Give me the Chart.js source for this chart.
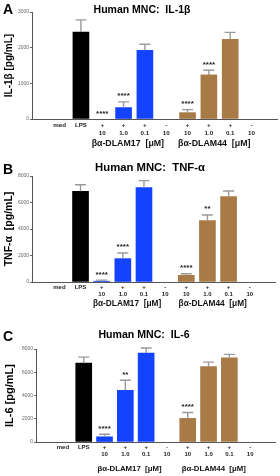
<!DOCTYPE html>
<html>
<head>
<meta charset="utf-8">
<script src="https://cdn.jsdelivr.net/npm/chart.js@4.4.1/dist/chart.umd.min.js"></script>
<style>
  body { margin: 0; background: #fff; }
  #wrap { position: relative; width: 280px; height: 476px; font-family: 'Liberation Sans', Arial, sans-serif; }
  canvas { position: absolute; left: 0; }
  .letter { position: absolute; left: 3px; font-weight: bold; font-size: 14px; line-height: 14px; }
  .title { position: absolute; transform: translateX(-50%); white-space: pre; font-weight: bold; line-height: 12px; }
</style>
</head>
<body>
<div id="wrap">
  <canvas id="chartA" width="280" height="155" style="top:0"></canvas>
  <canvas id="chartB" width="280" height="160" style="top:155px"></canvas>
  <canvas id="chartC" width="280" height="161" style="top:315px"></canvas>
  <div class="letter" style="top:2px">A</div>
  <div class="title" style="left:142px;top:3px;font-size:10.5px">Human MNC:  IL-1β</div>
  <div class="letter" style="top:162px">B</div>
  <div class="title" style="left:150px;top:161px;font-size:11.3px">Human MNC:  TNF-α</div>
  <div class="letter" style="top:329px">C</div>
  <div class="title" style="left:144px;top:328px;font-size:10.6px">Human MNC:  IL-6</div>
</div>
<script>
// tick labels (two rows) and group labels
const tickTop = ['med', 'LPS', '+', '+', '+', '-', '+', '+', '+', '-'];
const tickBottom = ['', '', '10', '1.0', '0.1', '10', '10', '1.0', '0.1', '10'];
const groups = ['βα-DLAM17  [μM]', 'βα-DLAM44  [μM]'];

// means and SEM
const il1bMean = [0, 2440, 0, 320, 1925, 0, 178, 1237, 2235, 0];
const il1bErr = [0, 340, 0, 160, 170, 0, 85, 130, 195, 0];
const il1bStars = ['', '', '****', '****', '', '', '****', '****', '', ''];

const tnfMean = [0, 6840, 60, 1765, 7120, 0, 503, 4630, 6440, 0];
const tnfErr = [0, 500, 80, 425, 530, 0, 125, 430, 430, 0];
const tnfStars = ['', '', '****', '****', '', '', '****', '**', '', ''];

const il6Mean = [0, 6780, 450, 4450, 7650, 0, 2030, 6490, 7250, 0];
const il6Err = [0, 520, 220, 860, 440, 0, 510, 380, 290, 0];
const il6Stars = ['', '', '****', '**', '', '', '****', '', '', ''];

const barColors = ['#000000', '#000000', '#1443ff', '#1443ff', '#1443ff', '#1443ff',
                   '#a87a45', '#a87a45', '#a87a45', '#a87a45'];

Chart.defaults.font.family = "'Liberation Sans', Arial, sans-serif";

const extras = {
  id: 'extras',
  afterDatasetsDraw(chart, args, o) {
    const ctx = chart.ctx;
    const x = chart.scales.x, y = chart.scales.y;
    ctx.save();
    o.values.forEach((v, i) => {
      const px = x.getPixelForValue(i);
      const top = y.getPixelForValue(v);
      const et = y.getPixelForValue(v + o.errors[i]);
      if (o.errors[i] > 0) {
        ctx.strokeStyle = '#9a9a9a';
        ctx.lineWidth = 1.4;
        ctx.beginPath();
        ctx.moveTo(px, top);
        ctx.lineTo(px, et);
        ctx.moveTo(px - 5.5, et);
        ctx.lineTo(px + 5.5, et);
        ctx.stroke();
      }
      if (o.stars[i]) {
        ctx.fillStyle = '#222';
        ctx.font = 'bold 8px "Liberation Sans", Arial';
        ctx.textAlign = 'center';
        ctx.textBaseline = 'alphabetic';
        ctx.fillText(o.stars[i], px, et - 3.5);
      }
    });
    ctx.fillStyle = '#111';
    ctx.font = 'bold ' + o.groupSize + 'px "Liberation Sans", Arial';
    ctx.textAlign = 'center';
    ctx.textBaseline = 'middle';
    groups.forEach((g, k) => {
      ctx.fillText(g, x.getPixelForValue(o.groupAt[k]), chart.chartArea.bottom + o.groupDy);
    });
    ctx.restore();
  }
};

function makeChart(id, values, errors, stars, cfg) {
  return new Chart(document.getElementById(id), {
    type: 'bar',
    data: {
      datasets: [{
        // zero-height bars are left out so no hairline shows on the axis
        data: values.map((v, i) => ({ x: i, y: v === 0 ? null : v })),
        backgroundColor: barColors,
        borderWidth: 0,
        barThickness: 16
      }]
    },
    options: {
      responsive: false,
      animation: false,
      layout: { padding: { top: cfg.padTop, right: cfg.padRight, left: 0, bottom: 0 } },
      plugins: {
        legend: { display: false },
        tooltip: { enabled: false },
        extras: {
          values: values, errors: errors, stars: stars,
          groupAt: [3.2, 7.25], groupDy: cfg.groupDy, groupSize: cfg.groupSize
        }
      },
      scales: {
        x: {
          type: 'linear',
          min: -0.72,
          max: 9.62,
          afterBuildTicks: s => { s.ticks = tickTop.map((t, i) => ({ value: i })); },
          afterFit: s => { s.height = cfg.xHeight; },
          grid: { display: false, drawTicks: false },
          border: { display: true, color: '#555', width: 1 },
          ticks: {
            autoSkip: false, maxRotation: 0, minRotation: 0,
            padding: cfg.tickPad,
            color: '#222',
            font: { size: cfg.tickSize, weight: 'bold', lineHeight: cfg.tickLine },
            callback: v => tickBottom[v] ? [tickTop[v], tickBottom[v]] : [tickTop[v]]
          }
        },
        y: {
          min: 0,
          max: cfg.yMax,
          afterFit: s => { s.width = cfg.yWidth; },
          grid: { display: true, drawOnChartArea: false, drawTicks: true, tickLength: 2, color: '#666' },
          border: { display: true, color: '#555', width: 1 },
          ticks: {
            stepSize: cfg.yStep, padding: 1, color: '#666',
            font: { size: 5 },
            callback: v => String(v)
          },
          title: {
            display: true, text: cfg.yTitle, color: '#000',
            font: { size: cfg.yTitleSize, weight: 'bold' },
            padding: { top: 3, bottom: 0 }
          }
        }
      }
    },
    plugins: [extras]
  });
}

makeChart('chartA', il1bMean, il1bErr, il1bStars, {
  padTop: 12, padRight: 3, xHeight: 36, yWidth: 32, yMax: 3000, yStep: 1000,
  yTitle: 'IL-1β [pg/mL]', yTitleSize: 10, tickPad: 2, tickSize: 6.2, tickLine: 1.3,
  groupDy: 25, groupSize: 8.8
});
makeChart('chartB', tnfMean, tnfErr, tnfStars, {
  padTop: 21, padRight: 5, xHeight: 33, yWidth: 32, yMax: 8000, yStep: 2000,
  yTitle: 'TNF-α  [pg/mL]', yTitleSize: 10.5, tickPad: 1.5, tickSize: 6, tickLine: 1.2,
  groupDy: 22, groupSize: 8.3
});
makeChart('chartC', il6Mean, il6Err, il6Stars, {
  padTop: 34, padRight: 5, xHeight: 34, yWidth: 36, yMax: 8000, yStep: 2000,
  yTitle: 'IL-6 [pg/mL]', yTitleSize: 11, tickPad: 1.5, tickSize: 6, tickLine: 1.2,
  groupDy: 27, groupSize: 7.8
});
</script>
</body>
</html>
